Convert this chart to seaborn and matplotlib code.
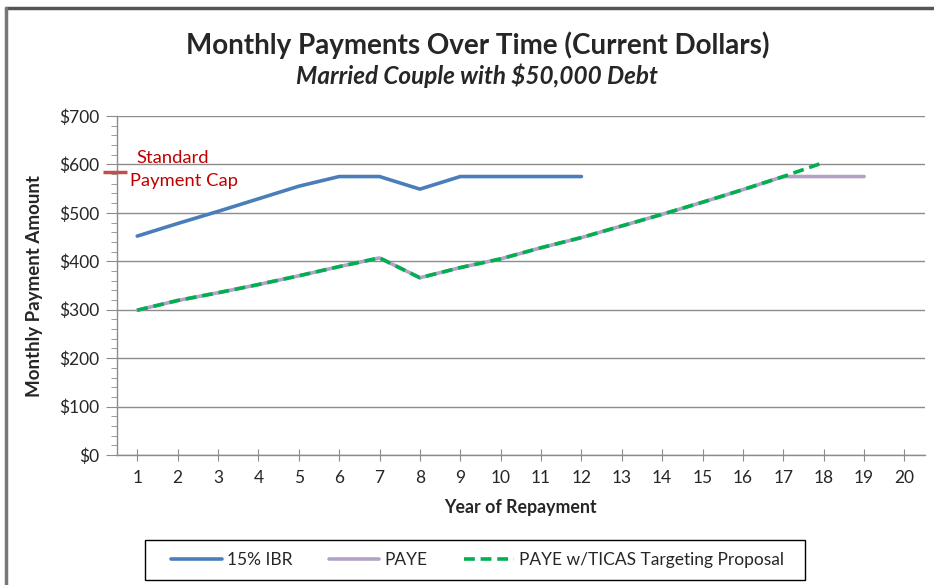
import numpy as np
import pandas as pd
import matplotlib
matplotlib.use("Agg")
import matplotlib.pyplot as plt
import seaborn as sns
from matplotlib.ticker import MultipleLocator, FuncFormatter
from matplotlib.lines import Line2D
from matplotlib.patches import Rectangle

# values
years = list(range(1, 21))
ibr_years = list(range(1, 13))
ibr = [452, 478, 503, 529, 555, 575, 575, 549, 575, 575, 575, 575]
paye_years = list(range(1, 20))
paye = [299, 319, 335, 352, 370, 389, 407, 366, 387, 405, 428, 449,
        473, 497, 522, 548, 575, 575, 575]
ticas_years = list(range(1, 19))
ticas = [299, 319, 335, 352, 370, 389, 407, 366, 387, 405, 428, 449,
         473, 497, 522, 548, 575, 604]
cap_value = 585

sns.set_style("white")
plt.rcParams['font.family'] = ['Lato', 'DejaVu Sans']

fig = plt.figure(figsize=(9.34, 5.85), dpi=100)
ax = fig.add_axes([0.1253, 0.2222, 0.8647, 0.5795])

ibr_df = pd.DataFrame({"year": ibr_years, "amount": ibr})
paye_df = pd.DataFrame({"year": paye_years, "amount": paye})
ticas_df = pd.DataFrame({"year": ticas_years, "amount": ticas})

sns.lineplot(data=ibr_df, x="year", y="amount", ax=ax, color="#4A7EBB", lw=2.6)
sns.lineplot(data=paye_df, x="year", y="amount", ax=ax, color="#B3A2C7", lw=2.6)
sns.lineplot(data=ticas_df, x="year", y="amount", ax=ax, color="#00B050", lw=2.6,
             linestyle=(0, (3, 1.6)))

# standard payment cap marker just left of the axis
ax.plot([0.44], [cap_value], marker="_", markersize=17, mew=2.5,
        color="#C0504D", clip_on=False, zorder=5)
ax.text(1.89, 614, "Standard", color="#C00000", fontsize=13.2, ha="center", va="center")
ax.text(2.16, 565, "Payment Cap", color="#C00000", fontsize=13.2, ha="center", va="center")

ax.set_xlim(0.5, 20.5)
ax.set_ylim(0, 700)
ax.set_xticks(years)
ax.yaxis.set_major_locator(MultipleLocator(100))
ax.yaxis.set_minor_locator(MultipleLocator(20))
ax.yaxis.set_major_formatter(FuncFormatter(lambda v, p: f"${int(v)}"))
ax.grid(axis="y", color="#8C8C8C", lw=1)
ax.set_axisbelow(True)

for s in ["top", "right"]:
    ax.spines[s].set_visible(False)
for s in ["left", "bottom"]:
    ax.spines[s].set_color("#8C8C8C")
    ax.spines[s].set_linewidth(1)

ax.tick_params(axis="y", which="major", left=True, direction="out", length=8,
               color="#8C8C8C", labelsize=12.5, pad=5)
ax.tick_params(axis="y", which="minor", left=True, direction="out", length=4,
               color="#8C8C8C")
ax.tick_params(axis="x", bottom=True, direction="inout", length=8,
               color="#8C8C8C", labelsize=12.5, pad=7)

ax.set_xlabel("Year of Repayment", fontsize=12.8, fontweight="bold", labelpad=9)
ax.set_ylabel("Monthly Payment Amount", fontsize=13.5, fontweight="bold", labelpad=11)

fig.text(0.511, 0.923, "Monthly Payments Over Time (Current Dollars)",
         fontsize=20, fontweight="bold", ha="center", va="center")
fig.text(0.511, 0.871, "Married Couple with $50,000 Debt",
         fontsize=17.5, fontweight="bold", style="italic", ha="center", va="center")

handles = [
    Line2D([], [], color="#4A7EBB", lw=2.6),
    Line2D([], [], color="#B3A2C7", lw=2.6),
    Line2D([], [], color="#00B050", lw=2.6, linestyle=(0, (3, 1.6))),
]
labels = ["15% IBR", "PAYE", "PAYE w/TICAS Targeting Proposal"]
leg = fig.legend(handles, labels, loc="center", bbox_to_anchor=(0.5115, 0.043),
                 ncol=3, frameon=False, fontsize=12.5,
                 handlelength=2.9, handletextpad=0.3, columnspacing=2.1,
                 borderpad=0.5, borderaxespad=0)
# wider legend box, as in the reference
fig.add_artist(Rectangle((0.1552, 0.0085), 0.7066, 0.0684, transform=fig.transFigure,
                         fill=False, edgecolor="black", lw=1))

# chart-area border (top and left edge visible in the reference)
fig.add_artist(Line2D([0.006, 1.0], [0.986, 0.986], transform=fig.transFigure,
                      color="#555555", lw=2.5))
fig.add_artist(Line2D([0.006, 0.006], [0.0, 0.986], transform=fig.transFigure,
                      color="#777777", lw=2.5))

fig.savefig("out.png", dpi=100)
